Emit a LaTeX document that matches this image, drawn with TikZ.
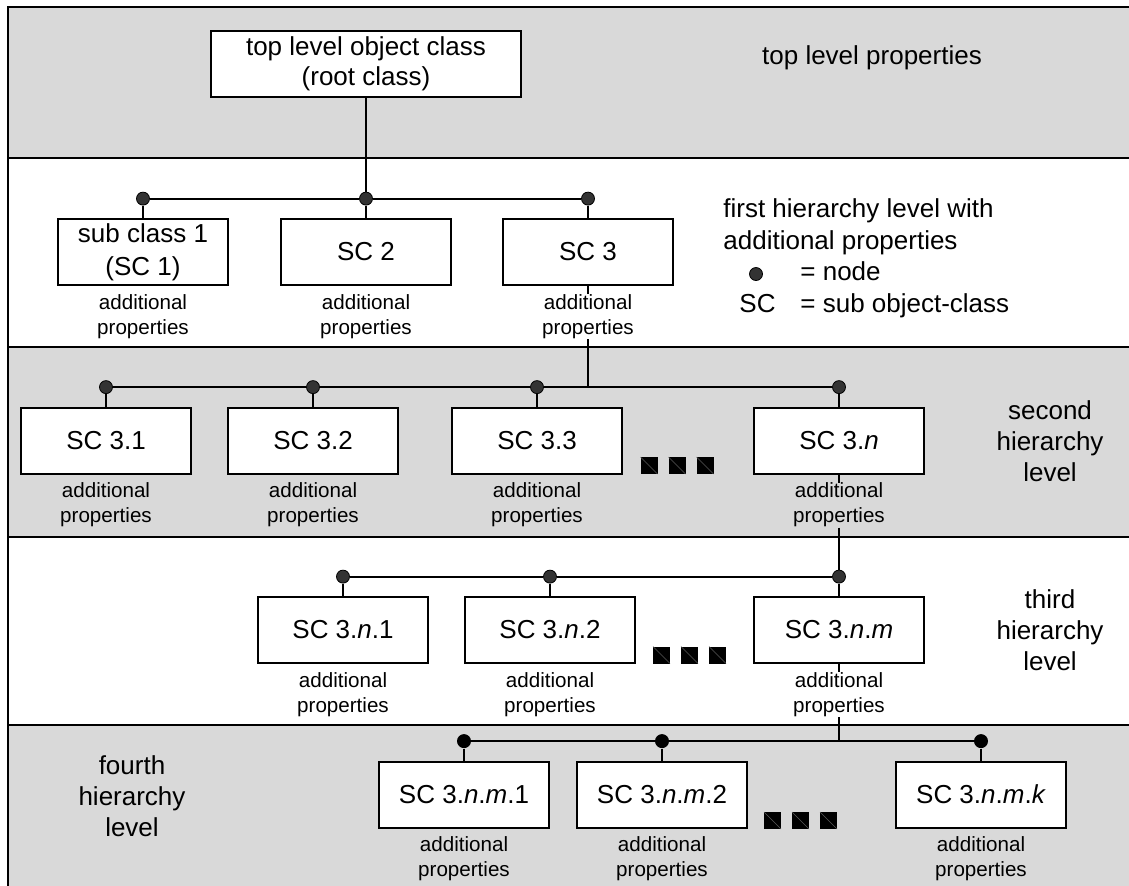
\documentclass[tikz,border=0pt]{standalone}
\usepackage{fontspec}
\setmainfont{Liberation Sans}
\usetikzlibrary{positioning}
\definecolor{bandgray}{RGB}{217,217,217}

\tikzset{
  band/.style={draw, line width=1.1pt},
  classbox/.style={draw, fill=white, line width=1pt, minimum width=85pt, minimum height=33pt,
    inner sep=0pt, align=center, font=\fontsize{13}{16.5}\selectfont},
  props/.style={inner sep=0pt, align=center, font=\fontsize{10.3}{12.5}\selectfont},
  knot/.style={circle, draw=black, fill=black!80, line width=0.4pt, inner sep=0pt, minimum size=6.5pt},
  bigknot/.style={circle, fill=black, inner sep=0pt, minimum size=7pt},
  bigtext/.style={inner sep=0pt, font=\fontsize{13}{16}\selectfont},
  leveltext/.style={align=center, font=\fontsize{13}{15.5}\selectfont},
  conn/.style={line width=1pt},
}
\newcommand{\etcsquares}[2]{%
  \foreach \k in {0,1,2}{
    \fill (#1+28*\k-8.5,#2-8.5) rectangle +(17,17);
    \draw[black!65, line width=0.2pt] (#1+28*\k-8.5,#2-8.5) -- +(17,17);
  }}

\begin{document}
\begin{tikzpicture}[x=0.5pt,y=-0.5pt]
\useasboundingbox (0,0) rectangle (1129,885);
\clip (0,0) rectangle (1129,885);

%bands
\filldraw[band, fill=bandgray] (8,7) rectangle (1140,158);
\filldraw[band, fill=white] (8,158) rectangle (1140,347);
\filldraw[band, fill=bandgray] (8,347) rectangle (1140,537);
\filldraw[band, fill=white] (8,537) rectangle (1140,725);
\filldraw[band, fill=bandgray] (8,725) rectangle (1140,900);

%top level
\node[classbox, minimum width=155pt, font=\fontsize{13}{15}\selectfont] (root) at (366,64)
  {top level object class\\(root class)};
\node[leveltext] (lvl0) at (872,58) {top level properties};

%first level
\node[classbox] (sc1) at (143,252) {sub class 1\\(SC 1)};
\node[classbox] (sc2) at (366,252) {SC 2};
\node[classbox] (sc3) at (588,252) {SC 3};
\foreach \b in {1,2,3}{
  \node[knot, above=6.25pt of sc\b] (k\b) {};
  \node[props, below=4pt of sc\b] (p\b) {additional\\properties};
  \draw[conn] (k\b) -- (sc\b);
}
\draw[conn] (root) -- (k2);
\draw[conn] (k1) -- (k2) -- (k3);

\node[bigtext, anchor=north west, align=left] (lvl1) at (723,198)
  {first hierarchy level with\\additional properties};
\node[knot] (legknot) at (756,274) {};
\node[bigtext, anchor=base west] (legeq1) at (800,280) {= node};
\node[bigtext, anchor=base west] (legsc) at (739,312) {SC};
\node[bigtext, anchor=base west] (legeq2) at (800,312) {= sub object-class};

%second level
\node[classbox] (sc31) at (106,440.5) {SC 3.1};
\node[classbox] (sc32) at (313,440.5) {SC 3.2};
\node[classbox] (sc33) at (537,440.5) {SC 3.3};
\node[classbox] (sc3n) at (839,440.5) {SC 3.\textit{n}};
\foreach \b in {31,32,33,3n}{
  \node[knot, above=6.25pt of sc\b] (k\b) {};
  \node[props, below=4pt of sc\b] (p\b) {additional\\properties};
  \draw[conn] (k\b) -- (sc\b);
}
\draw[conn] (k31) -- (k32) -- (k33) -- (k3n);
\draw[conn] (sc3) -- (p3);
\draw[conn] (p3.south) -- (p3.south |- k31);
\etcsquares{649}{465.5}
\node[leveltext] (lvl2) at (1050,441) {second\\hierarchy\\level};

%third level
\node[classbox] (sc3n1) at (343,630) {SC 3.\textit{n}.1};
\node[classbox] (sc3n2) at (550,630) {SC 3.\textit{n}.2};
\node[classbox] (sc3nm) at (839,630) {SC 3.\textit{n}.\textit{m}};
\foreach \b in {3n1,3n2,3nm}{
  \node[knot, above=6.25pt of sc\b] (k\b) {};
  \node[props, below=4pt of sc\b] (p\b) {additional\\properties};
  \draw[conn] (k\b) -- (sc\b);
}
\draw[conn] (k3n1) -- (k3n2) -- (k3nm);
\draw[conn] (sc3n) -- (p3n);
\draw[conn] (p3n.south) -- (k3nm);
\etcsquares{661.5}{655}
\node[leveltext] (lvl3) at (1050,630) {third\\hierarchy\\level};

%fourth level
\node[classbox] (sc3nm1) at (464,794.5) {SC 3.\textit{n}.\textit{m}.1};
\node[classbox] (sc3nm2) at (662,794.5) {SC 3.\textit{n}.\textit{m}.2};
\node[classbox] (sc3nmk) at (981,794.5) {SC 3.\textit{n}.\textit{m}.\textit{k}};
\foreach \b in {3nm1,3nm2,3nmk}{
  \node[bigknot, above=6pt of sc\b] (k\b) {};
  \node[props, below=4pt of sc\b] (p\b) {additional\\properties};
  \draw[conn] (k\b) -- (sc\b);
}
\draw[conn] (k3nm1) -- (k3nm2) -- (k3nmk);
\draw[conn] (sc3nm) -- (p3nm);
\draw[conn] (p3nm.south) -- (p3nm.south |- k3nm1);
\etcsquares{772.5}{820.5}
\node[leveltext] (lvl4) at (132,796) {fourth\\hierarchy\\level};
\end{tikzpicture}
\end{document}
